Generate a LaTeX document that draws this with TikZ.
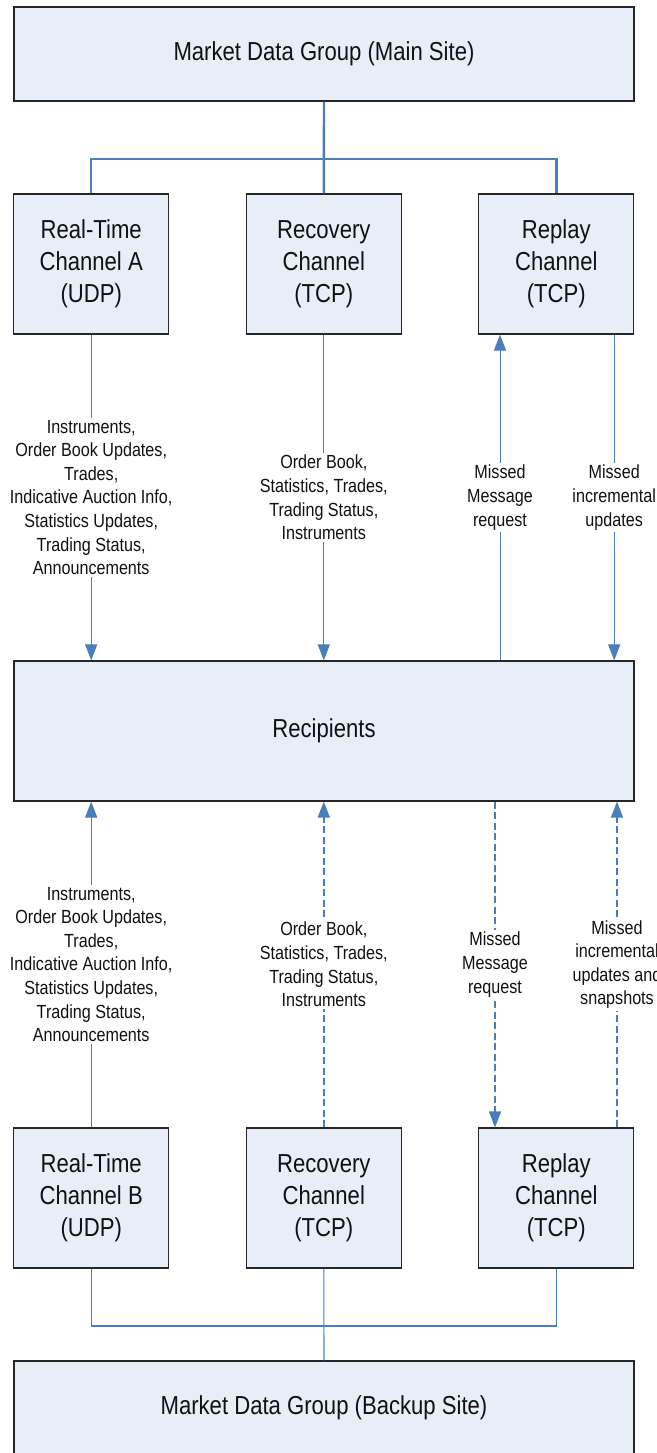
\documentclass[tikz,border=0pt]{standalone}
\usepackage{fontspec}
\setmainfont{Liberation Sans}[FakeStretch=0.85]
\usetikzlibrary{arrows.meta}
\definecolor{lnblue}{HTML}{4A7EBB}
\definecolor{boxfill}{HTML}{E8EEF7}
\definecolor{txt}{HTML}{111111}
\begin{document}
\begin{tikzpicture}[x=1pt,y=-1pt,
  box/.style={draw=black!85, line width=1.1pt, fill=boxfill, minimum width=155pt, minimum height=140pt,
    inner sep=0pt, align=center, text=txt, font=\fontsize{26}{32}\selectfont},
  wide/.style={box, minimum width=620pt},
  lbl/.style={fill=white, inner sep=2.5pt, align=center, text=txt, font=\fontsize{19}{23.6}\selectfont},
  tree/.style={draw=lnblue, line width=2.4pt},
  treethin/.style={draw=lnblue, line width=1.1pt},
  flow/.style={draw=lnblue, line width=1pt, -{Triangle[length=16pt,width=12pt]}},
  dflow/.style={flow, line width=1.6pt, dash pattern=on 7pt off 3.5pt},
]
\useasboundingbox (0,0) rectangle (656,1453);
\clip (0,0) rectangle (656,1453);

% boxes
\node[wide, minimum height=94pt] (main) at (324,54) {Market Data Group (Main Site)};
\node[box] (rtA)  at (91.2,264)  {Real-Time\\Channel A\\(UDP)};
\node[box] (recA) at (323.8,264) {Recovery\\Channel\\(TCP)};
\node[box] (repA) at (556.3,264) {Replay\\Channel\\(TCP)};
\node[wide] (rcp) at (324,731) {Recipients};
\node[box] (rtB)  at (91.2,1198)  {Real-Time\\Channel B\\(UDP)};
\node[box] (recB) at (323.8,1198) {Recovery\\Channel\\(TCP)};
\node[box] (repB) at (556.3,1198) {Replay\\Channel\\(TCP)};
\node[wide, minimum height=94pt] (bak) at (324,1408) {Market Data Group (Backup Site)};

% top tree
\coordinate (jt) at (323.8,159);
\draw[tree] (main.south) -- (recA.north);
\draw[tree] (rtA.north) |- (jt) -| (repA.north);

% bottom tree
\coordinate (jb) at (323.8,1326);
\draw[treethin] (recB.south) -- (bak.north);
\draw[treethin] (rtB.south) |- (jb) -| (repB.south);

% x positions of replay connectors
\coordinate (xq)  at (500,0);
\coordinate (xi)  at (614.2,0);
\coordinate (xq2) at (495,0);
\coordinate (xi2) at (617,0);

% upper flows
\draw[flow] (rtA.south) -- node[lbl] (la1) {Instruments,\\Order Book Updates,\\Trades,\\Indicative Auction Info,\\Statistics Updates,\\Trading Status,\\Announcements} (rcp.north -| rtA.south);
\draw[flow] (recA.south) -- node[lbl] (la2) {Order Book,\\Statistics, Trades,\\Trading Status,\\Instruments} (rcp.north -| recA.south);
\draw[flow] (rcp.north -| xq) -- node[lbl] (la3) {Missed\\Message\\request} (repA.south -| xq);
\draw[flow] (repA.south -| xi) -- node[lbl] (la4) {Missed\\incremental\\updates} (rcp.north -| xi);

% lower flows
\draw[flow] (rtB.north) -- node[lbl] (lb1) {Instruments,\\Order Book Updates,\\Trades,\\Indicative Auction Info,\\Statistics Updates,\\Trading Status,\\Announcements} (rcp.south -| rtB.north);
\draw[dflow] (recB.north) -- node[lbl] (lb2) {Order Book,\\Statistics, Trades,\\Trading Status,\\Instruments} (rcp.south -| recB.north);
\draw[dflow] (rcp.south -| xq2) -- node[lbl] (lb3) {Missed\\Message\\request} (repB.north -| xq2);
\draw[dflow] (repB.north -| xi2) -- node[lbl] (lb4) {Missed\\incremental\\updates and\\snapshots} (rcp.south -| xi2);
\end{tikzpicture}
\end{document}
